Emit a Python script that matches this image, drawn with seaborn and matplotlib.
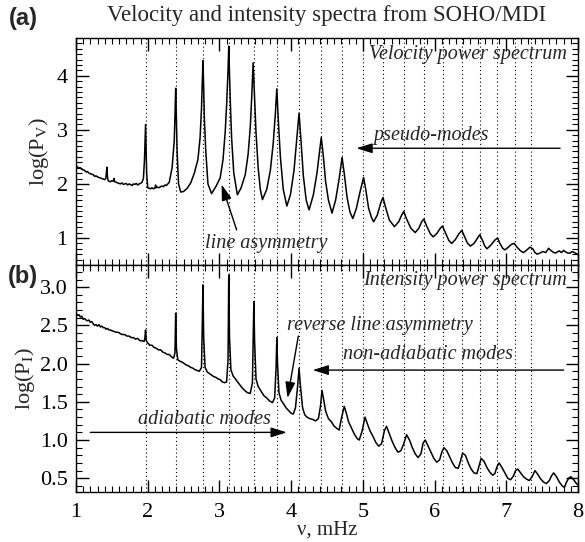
import numpy as np
import pandas as pd
import matplotlib
matplotlib.use("Agg")
import matplotlib.pyplot as plt
from matplotlib.ticker import MultipleLocator
import seaborn as sns

# ---------------- data ----------------
vel_freq = [1.00, 1.02, 1.04, 1.06, 1.08, 1.10, 1.12, 1.14, 1.16, 1.18, 1.20, 1.22, 1.24, 1.26, 1.28, 1.30,
            1.32, 1.34, 1.36, 1.38, 1.40, 1.415, 1.425, 1.43, 1.435, 1.445, 1.46, 1.48, 1.50, 1.52, 1.53,
            1.54, 1.56, 1.58, 1.60, 1.62, 1.64, 1.66, 1.68, 1.70, 1.72, 1.74, 1.76, 1.78, 1.80, 1.82, 1.84,
            1.86, 1.88, 1.90, 1.92, 1.94, 1.955, 1.965, 1.97, 1.975, 1.985, 2.00, 2.02, 2.04, 2.06, 2.08,
            2.10, 2.11, 2.12, 2.14, 2.16, 2.18, 2.20, 2.22, 2.24, 2.26, 2.28, 2.30, 2.34, 2.37, 2.38, 2.39,
            2.40, 2.41, 2.43, 2.46, 2.50, 2.55, 2.60, 2.65, 2.70, 2.73, 2.75, 2.76, 2.77, 2.78, 2.79, 2.81,
            2.84, 2.89, 2.95, 3.01, 3.05, 3.08, 3.10, 3.12, 3.13, 3.14, 3.155, 3.17, 3.20, 3.25, 3.30, 3.36,
            3.40, 3.43, 3.45, 3.47, 3.49, 3.51, 3.54, 3.57, 3.60, 3.66, 3.71, 3.75, 3.78, 3.80, 3.82, 3.85,
            3.89, 3.94, 3.99, 4.04, 4.08, 4.11, 4.14, 4.17, 4.21, 4.25, 4.31, 4.36, 4.40, 4.42, 4.45, 4.48,
            4.52, 4.57, 4.62, 4.67, 4.71, 4.74, 4.78, 4.82, 4.86, 4.91, 4.96, 5.01, 5.04, 5.08, 5.12, 5.15,
            5.20, 5.25, 5.28, 5.32, 5.37, 5.44, 5.50, 5.54, 5.57, 5.61, 5.67, 5.73, 5.78, 5.82, 5.85, 5.89,
            5.94, 5.98, 6.03, 6.08, 6.11, 6.15, 6.20, 6.24, 6.29, 6.34, 6.38, 6.42, 6.46, 6.50, 6.55, 6.60,
            6.63, 6.67, 6.70, 6.73, 6.78, 6.84, 6.88, 6.91, 6.95, 6.98, 7.02, 7.07, 7.11, 7.15, 7.20, 7.24,
            7.28, 7.33, 7.37, 7.40, 7.43, 7.47, 7.51, 7.55, 7.59, 7.62, 7.65, 7.68, 7.71, 7.74, 7.77, 7.80,
            7.83, 7.86, 7.89, 7.92, 7.95, 7.98, 8.00]
vel_logp = [2.34, 2.31, 2.30, 2.30, 2.27, 2.26, 2.25, 2.22, 2.23, 2.20, 2.19, 2.18, 2.17, 2.14, 2.15, 2.13,
            2.12, 2.11, 2.10, 2.09, 2.08, 2.10, 2.22, 2.31, 2.20, 2.07, 2.05, 2.04, 2.06, 2.05, 2.10,
            2.04, 2.03, 2.02, 2.01, 2.00, 2.02, 1.99, 2.00, 2.01, 1.98, 2.00, 1.99, 1.97, 2.00, 1.99, 2.01,
            1.98, 2.00, 2.01, 2.03, 2.10, 2.45, 2.85, 3.10, 2.80, 2.20, 1.93, 1.92, 1.91, 1.93, 1.91,
            1.92, 1.98, 1.93, 1.94, 1.93, 1.95, 1.96, 1.95, 1.98, 1.97, 2.00, 2.03, 2.30, 2.80, 3.25, 3.77,
            3.20, 2.60, 2.00, 1.85, 1.86, 1.92, 2.02, 2.20, 2.45, 2.85, 3.40, 3.85, 4.28, 3.80, 3.20, 2.60,
            2.00, 1.82, 1.95, 2.11, 2.45, 2.95, 3.45, 4.10, 4.55, 4.05, 3.40, 2.85, 2.20, 1.80, 1.92, 2.17,
            2.55, 3.05, 3.60, 4.24, 3.60, 2.95, 2.30, 1.90, 1.71, 1.90, 2.25, 2.75, 3.30, 3.76, 3.20, 2.50,
            1.90, 1.59, 1.80, 2.25, 2.85, 3.31, 2.75, 2.15, 1.70, 1.52, 1.80, 2.20, 2.65, 2.86, 2.50, 2.05,
            1.70, 1.46, 1.70, 2.10, 2.49, 2.20, 1.75, 1.48, 1.36, 1.55, 1.85, 2.12, 1.90, 1.55, 1.38, 1.30,
            1.42, 1.65, 1.75, 1.55, 1.33, 1.21, 1.30, 1.42, 1.49, 1.35, 1.18, 1.10, 1.18, 1.30, 1.35, 1.22,
            1.08, 1.02, 1.08, 1.18, 1.22, 1.10, 0.95, 0.90, 0.97, 1.08, 1.14, 1.02, 0.90, 0.85, 0.90, 1.00,
            1.06, 0.95, 0.85, 0.80, 0.86, 0.96, 1.00, 0.90, 0.81, 0.78, 0.82, 0.88, 0.90, 0.83, 0.76, 0.73,
            0.77, 0.83, 0.80, 0.73, 0.70, 0.72, 0.75, 0.73, 0.81, 0.77, 0.74, 0.72, 0.74, 0.76, 0.73, 0.77,
            0.74, 0.72, 0.72, 0.75, 0.73, 0.71, 0.69]

int_freq = [1.00, 1.02, 1.04, 1.06, 1.08, 1.10, 1.12, 1.14, 1.16, 1.18, 1.20, 1.22, 1.24, 1.26, 1.28, 1.30,
            1.32, 1.34, 1.36, 1.38, 1.40, 1.42, 1.44, 1.46, 1.48, 1.50, 1.53, 1.56, 1.59, 1.62, 1.65, 1.68,
            1.71, 1.74, 1.77, 1.80, 1.83, 1.86, 1.89, 1.92, 1.95, 1.96, 1.97, 1.98, 2.00, 2.03, 2.06, 2.09,
            2.12, 2.15, 2.18, 2.21, 2.24, 2.27, 2.30, 2.33, 2.36, 2.38, 2.39, 2.40, 2.42, 2.45, 2.48, 2.51,
            2.54, 2.57, 2.60, 2.63, 2.66, 2.69, 2.72, 2.75, 2.76, 2.77, 2.78, 2.80, 2.83, 2.86, 2.89, 2.92,
            2.95, 2.98, 3.01, 3.04, 3.07, 3.10, 3.12, 3.13, 3.14, 3.16, 3.19, 3.23, 3.27, 3.31, 3.35, 3.39,
            3.43, 3.46, 3.48, 3.49, 3.51, 3.54, 3.58, 3.62, 3.66, 3.70, 3.74, 3.77, 3.79, 3.80, 3.81, 3.83,
            3.86, 3.89, 3.93, 3.97, 4.00, 4.03, 4.06, 4.09, 4.11, 4.13, 4.16, 4.19, 4.22, 4.26, 4.30, 4.34,
            4.38, 4.41, 4.43, 4.45, 4.48, 4.52, 4.56, 4.60, 4.64, 4.67, 4.70, 4.74, 4.77, 4.80, 4.84, 4.88,
            4.92, 4.95, 4.99, 5.03, 5.06, 5.10, 5.14, 5.18, 5.22, 5.26, 5.30, 5.33, 5.37, 5.41, 5.45, 5.49,
            5.53, 5.57, 5.61, 5.65, 5.69, 5.73, 5.77, 5.81, 5.84, 5.87, 5.91, 5.95, 5.99, 6.03, 6.07, 6.10,
            6.13, 6.17, 6.21, 6.25, 6.29, 6.33, 6.36, 6.39, 6.43, 6.47, 6.51, 6.55, 6.59, 6.62, 6.65, 6.69,
            6.73, 6.77, 6.81, 6.84, 6.87, 6.90, 6.94, 6.98, 7.02, 7.06, 7.10, 7.13, 7.16, 7.20, 7.24, 7.28,
            7.32, 7.36, 7.40, 7.44, 7.48, 7.52, 7.56, 7.60, 7.63, 7.66, 7.70, 7.74, 7.78, 7.81, 7.84, 7.87,
            7.90, 7.94, 7.97, 8.00]
int_logp = [2.66, 2.63, 2.64, 2.61, 2.62, 2.58, 2.59, 2.57, 2.56, 2.57, 2.54, 2.55, 2.52, 2.50, 2.51, 2.49,
            2.51, 2.48, 2.49, 2.47, 2.47, 2.45, 2.46, 2.44, 2.44, 2.43, 2.42, 2.41, 2.41, 2.39, 2.38, 2.38,
            2.36, 2.36, 2.34, 2.34, 2.32, 2.33, 2.30, 2.30, 2.29, 2.33, 2.44, 2.30, 2.27, 2.24, 2.24, 2.21,
            2.20, 2.18, 2.18, 2.15, 2.14, 2.12, 2.12, 2.09, 2.07, 2.14, 2.66, 2.20, 2.05, 2.03, 2.02, 2.00,
            1.98, 1.97, 1.95, 1.94, 1.92, 1.91, 1.90, 1.95, 2.45, 3.03, 2.35, 1.95, 1.89, 1.87, 1.85, 1.83,
            1.82, 1.80, 1.79, 1.76, 1.75, 1.76, 2.05, 3.16, 2.35, 1.92, 1.84, 1.79, 1.74, 1.69, 1.65, 1.62,
            1.61, 1.75, 2.81, 2.30, 1.80, 1.70, 1.64, 1.58, 1.55, 1.51, 1.49, 1.55, 1.95, 2.34, 2.00, 1.62,
            1.52, 1.48, 1.42, 1.38, 1.35, 1.34, 1.42, 1.70, 1.94, 1.70, 1.42, 1.33, 1.30, 1.28, 1.27, 1.25,
            1.28, 1.45, 1.65, 1.55, 1.38, 1.28, 1.24, 1.18, 1.15, 1.13, 1.28, 1.44, 1.35, 1.24, 1.16, 1.08,
            1.02, 1.00, 1.12, 1.30, 1.22, 1.12, 1.05, 0.97, 0.92, 0.95, 1.12, 1.18, 1.08, 0.98, 0.90, 0.84,
            0.86, 0.95, 1.07, 1.00, 0.90, 0.82, 0.77, 0.82, 0.96, 1.00, 0.92, 0.84, 0.76, 0.71, 0.74, 0.84,
            0.90, 0.86, 0.78, 0.70, 0.64, 0.63, 0.72, 0.83, 0.80, 0.70, 0.62, 0.57, 0.56, 0.66, 0.76, 0.72,
            0.64, 0.58, 0.54, 0.56, 0.65, 0.70, 0.64, 0.57, 0.50, 0.48, 0.53, 0.60, 0.62, 0.57, 0.52, 0.49,
            0.47, 0.52, 0.60, 0.55, 0.49, 0.45, 0.43, 0.47, 0.53, 0.57, 0.52, 0.45, 0.40, 0.38, 0.45, 0.50,
            0.52, 0.48, 0.44, 0.41]

mode_freqs = [1.97, 2.39, 2.77, 3.13, 3.48, 3.80, 4.11, 4.42, 4.71, 5.00, 5.28, 5.57, 5.85, 6.12,
              6.38, 6.63, 6.87, 7.12, 7.35]

x_ticks = [1, 2, 3, 4, 5, 6, 7, 8]
vel_yticks = [1, 2, 3, 4]
int_yticks = [0.5, 1.0, 1.5, 2.0, 2.5, 3.0]
int_yticklabels = ["0.5", "1.0", "1.5", "2.0", "2.5", "3.0"]

vel_df = pd.DataFrame({"freq": vel_freq, "logp": vel_logp})
int_df = pd.DataFrame({"freq": int_freq, "logp": int_logp})

# ---------------- style ----------------
sns.set_theme(style="white")
plt.rcParams["font.family"] = ["Liberation Serif", "DejaVu Serif"]
plt.rcParams["mathtext.fontset"] = "stix"
plt.rcParams["axes.edgecolor"] = "black"
plt.rcParams["axes.linewidth"] = 1.0

fig = plt.figure(figsize=(5.85, 5.42), dpi=100)
L, R = 76 / 585, 578 / 585
ax1 = fig.add_axes([L, 1 - 265 / 542, R - L, (265 - 38) / 542])
ax2 = fig.add_axes([L, 1 - 492 / 542, R - L, (492 - 265) / 542])

for ax in (ax1, ax2):
    for f in mode_freqs:
        ax.axvline(f, color="black", lw=0.8, ls=(0, (1, 2.5)), zorder=1)

sns.lineplot(data=vel_df, x="freq", y="logp", ax=ax1, color="black", lw=1.1,
             estimator=None, sort=False, zorder=3)
sns.lineplot(data=int_df, x="freq", y="logp", ax=ax2, color="black", lw=1.1,
             estimator=None, sort=False, zorder=3)

ax1.set_xlim(1, 8)
ax2.set_xlim(1, 8)
ax1.set_ylim(0.5, 4.7)
ax2.set_ylim(0.32, 3.29)

TICK_FS = 16
for ax in (ax1, ax2):
    ax.set_xticks(x_ticks)
    ax.xaxis.set_minor_locator(MultipleLocator(0.1))
    ax.yaxis.set_minor_locator(MultipleLocator(0.1))
    ax.tick_params(which="both", direction="in", top=True, right=True, bottom=True, left=True,
                   colors="black", labelsize=TICK_FS)
    ax.tick_params(which="major", length=9, width=1.0)
    ax.tick_params(which="minor", length=4.5, width=0.8)
    ax.tick_params(axis="y", pad=6)
    ax.tick_params(axis="x", pad=8)
    ax.grid(False)
    for s in ax.spines.values():
        s.set_color("black")

ax1.set_xticklabels([])
ax1.set_yticks(vel_yticks)
ax2.set_xticks(x_ticks)
ax2.set_xticklabels([str(t) for t in x_ticks])
ax2.set_yticks(int_yticks)
ax2.set_yticklabels(int_yticklabels)

ax1.set_xlabel("")
ax1.set_ylabel(r"log(P$_{\rm V}$)", fontsize=16, labelpad=4)
ax2.set_ylabel(r"log(P$_{\rm I}$)", fontsize=16, labelpad=2)
ax2.set_xlabel("ν, mHz", fontsize=15, labelpad=-1)

# title and panel labels
fig.text(327 / 585, 1 - 15 / 542, "Velocity and intensity spectra from SOHO/MDI",
         ha="center", va="center", fontsize=16.5)
fig.text(9 / 585, 1 - 18 / 542, "(a)", ha="left", va="center", fontsize=17,
         fontweight="bold", family="Liberation Sans")
fig.text(8 / 585, 1 - 276 / 542, "(b)", ha="left", va="center", fontsize=17,
         fontweight="bold", family="Liberation Sans")

ANN_FS = 14.5
arrow_kw = dict(arrowstyle="-|>,head_length=0.8,head_width=0.25", color="black", lw=1.0,
                shrinkA=0, shrinkB=0)

# annotations - panel a
ax1.text(7.85, 4.39, "Velocity power spectrum", ha="right", va="center", style="italic", fontsize=ANN_FS)
ax1.text(5.95, 2.89, "pseudo-modes", ha="center", va="center", style="italic", fontsize=ANN_FS)
ax1.annotate("", xy=(4.91, 2.66), xytext=(7.75, 2.66), arrowprops=arrow_kw)
ax1.text(3.65, 0.90, "line asymmetry", ha="center", va="center", style="italic", fontsize=ANN_FS)
ax1.annotate("", xy=(3.03, 1.99), xytext=(3.24, 1.15), arrowprops=arrow_kw)

# annotations - panel b
ax2.text(7.85, 3.09, "Intensity power spectrum", ha="right", va="center", style="italic", fontsize=ANN_FS)
ax2.text(5.24, 2.50, "reverse line asymmetry", ha="center", va="center", style="italic", fontsize=ANN_FS)
ax2.annotate("", xy=(3.95, 1.55), xytext=(4.10, 2.36), arrowprops=arrow_kw)
ax2.text(5.91, 2.12, "non-adiabatic modes", ha="center", va="center", style="italic", fontsize=ANN_FS)
ax2.annotate("", xy=(4.30, 1.915), xytext=(7.80, 1.915), arrowprops=arrow_kw)
ax2.text(2.79, 1.27, "adiabatic modes", ha="center", va="center", style="italic", fontsize=ANN_FS)
ax2.annotate("", xy=(3.94, 1.10), xytext=(1.20, 1.10), arrowprops=arrow_kw)

fig.savefig("out.png", dpi=100, facecolor="white")
